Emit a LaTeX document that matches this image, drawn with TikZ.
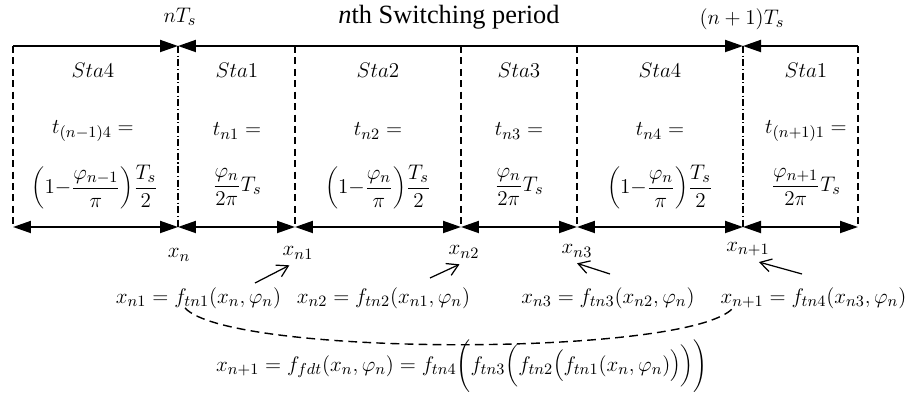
\documentclass[tikz,border=0pt]{standalone}
\usepackage{fontspec}
\setmainfont{Liberation Serif}
\usetikzlibrary{arrows.meta}
\tikzset{
  tip/.tip={Triangle[length=3.6mm,width=2.4mm]},
  dimline/.style={line width=1.1pt, tip-tip},
  bound/.style={line width=0.6pt, dash pattern=on 4pt off 2.5pt},
  boundn/.style={line width=0.6pt, dash pattern=on 4pt off 1.5pt on 0.6pt off 1.5pt},
  lbl/.style={font=\fontsize{13}{16}\selectfont},
  pointer/.style={line width=0.7pt, -{Straight Barb[length=2.2mm,width=2.6mm]}}
}
\newcommand{\mn}{\mathord{-}}
\begin{document}
\begin{tikzpicture}[x=0.02cm, y=-0.02cm, every node/.style={lbl}]
\useasboundingbox (0,0) rectangle (914,394);
\foreach \x [count=\i] in {13,178,295,461,577,743,858} {
  \coordinate (t\i) at (\x,46);
  \coordinate (b\i) at (\x,227);
}
\draw[bound] (t1) -- (b1);
\draw[boundn] (t2) -- (b2);
\draw[bound] (t3) -- (b3);
\draw[bound] (t4) -- (b4);
\draw[bound] (t5) -- (b5);
\draw[boundn] (t6) -- (b6);
\draw[bound] (t7) -- (b7);
\draw[line width=1.1pt, -tip] (t1) -- (t2);
\draw[dimline] (t2) -- (t6);
\draw[line width=1.1pt, tip-] (t6) -- (t7);
\foreach \a/\b in {1/2,2/3,3/4,4/5,5/6,6/7}
  \draw[dimline] (b\a) -- (b\b);

\node (nts) at (180,17) {$nT_s$};
\node[font=\fontsize{15}{18}\selectfont] (period) at (449,17) {\textit{n}th Switching period};
\node (nnts) at (742,19) {$\bigl(n+1\bigr)T_s$};

\node (sa) at (93,70) {$Sta4$};
\node (sb) at (237,70) {$Sta1$};
\node (sc) at (378,70) {$Sta2$};
\node (sd) at (519,70) {$Sta3$};
\node (se) at (660,70) {$Sta4$};
\node (sf) at (806,70) {$Sta1$};

\node (ta) at (93,131) {$t_{(n-1)4} =$};
\node (tb) at (237,131) {$t_{n1} =$};
\node (tc) at (378,131) {$t_{n2} =$};
\node (td) at (519,131) {$t_{n3} =$};
\node (te) at (660,131) {$t_{n4} =$};
\node (tf) at (806,131) {$t_{(n+1)1} =$};

\node (fa) at (95,187) {$\displaystyle\left(1\mn\frac{\varphi_{n-1}}{\pi}\right)\!\frac{T_s}{2}$};
\node (fb) at (237,187) {$\displaystyle\frac{\varphi_n}{2\pi}T_s$};
\node (fc) at (378,187) {$\displaystyle\left(1\mn\frac{\varphi_n}{\pi}\right)\!\frac{T_s}{2}$};
\node (fd) at (519,187) {$\displaystyle\frac{\varphi_n}{2\pi}T_s$};
\node (fe) at (660,187) {$\displaystyle\left(1\mn\frac{\varphi_n}{\pi}\right)\!\frac{T_s}{2}$};
\node (ff) at (806,187) {$\displaystyle\frac{\varphi_{n+1}}{2\pi}T_s$};

\node (xn) at (179,255) {$x_n$};
\node (xn1) at (298,253) {$x_{n1}$};
\node (xn2) at (464,252) {$x_{n2}$};
\node (xn3) at (577,251) {$x_{n3}$};
\node (xn4) at (748,249) {$x_{n+1}$};

\node (eqa) at (198.5,298) {$x_{n1} = f_{tn1}\bigl(x_n,\varphi_n\bigr)$};
\node (eqb) at (383.5,298) {$x_{n2} = f_{tn2}\bigl(x_{n1},\varphi_n\bigr)$};
\node (eqc) at (608,298) {$x_{n3} = f_{tn3}\bigl(x_{n2},\varphi_n\bigr)$};
\node (eqd) at (813.5,298) {$x_{n+1} = f_{tn4}\bigl(x_{n3},\varphi_n\bigr)$};

\node (eqall) at (462,366) {$x_{n+1} = f_{fdt}\bigl(x_n,\varphi_n\bigr) = f_{tn4}\Biggl(f_{tn3}\biggl(f_{tn2}\Bigl(f_{tn1}\bigl(x_n,\varphi_n\bigr)\Bigr)\biggr)\Biggr)$};

\coordinate (pa) at (255,283);
\coordinate (pb) at (430,278);
\coordinate (pc) at (610,274);
\coordinate (pd) at (802,274);
\draw[pointer] (pa) -- (xn1.235);
\draw[pointer] (pb) -- (xn2.250);
\draw[pointer] (pc) -- (xn3.south);
\draw[pointer] (pd) -- (xn4.-50);

\coordinate (ca) at (185,308);
\coordinate (cb) at (733,308);
\draw[line width=0.8pt, dash pattern=on 5pt off 3pt] (ca) .. controls (230,357) and (690,357) .. (cb);
\end{tikzpicture}
\end{document}
